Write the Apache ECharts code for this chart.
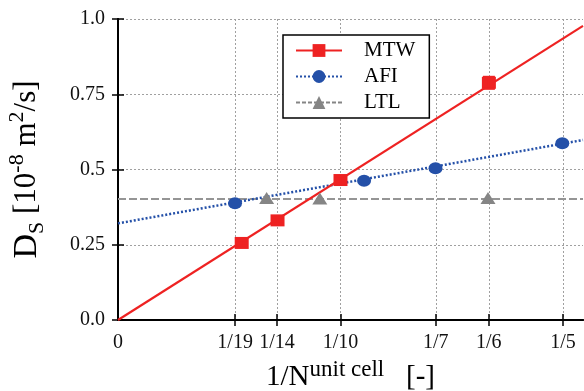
<!DOCTYPE html>
<html>
<head>
<meta charset="utf-8">
<script src="https://cdn.jsdelivr.net/npm/echarts@6/dist/echarts.min.js"></script>
<style>
  html, body {margin: 0; padding: 0; background: #fff;}
  #chart {width: 584px; height: 391px;}
</style>
</head>
<body>
<div id="chart"></div>
<script>
// tick positions on the 1/N axis and their labels
const tickVals = [0, 1 / 19, 1 / 14, 1 / 10, 1 / 7, 1 / 6, 1 / 5];
const tickText = ['0', '1/19', '1/14', '1/10', '1/7', '1/6', '1/5'];
const yTicks = [0, 0.25, 0.5, 0.75, 1.0];
const yTickText = ['0.0', '0.25', '0.5', '0.75', '1.0'];
const xMax = 0.209;

// measured points
const mtwX = [0.0556, 0.0717, 0.1, 0.1667];
const mtwY = [0.256, 0.331, 0.465, 0.788];
const mtwErr = [0.009, 0.009, 0.012, 0.02];
const afiX = [0.0526, 0.1106, 0.1427, 0.1997];
const afiY = [0.388, 0.463, 0.504, 0.587];
const ltlX = [0.0668, 0.0907, 0.1663];
const ltlY = [0.405, 0.404, 0.405];

// fitted lines (end points)
const mtwFit = [[0, 0], [xMax, 0.977]];
const afiFit = [[0, 0.321], [xMax, 0.598]];
const ltlFit = [[0, 0.402], [xMax, 0.402]];

const RED = '#ee2222';
const BLUE = '#2450a8';
const GREY = '#858585';
const FONT = 'Liberation Serif';

const zip = (xs, ys) => xs.map((x, i) => [x, ys[i]]);

const myChart = echarts.init(document.getElementById('chart'), null, {renderer: 'canvas'});

const gridLine = {show: true, lineStyle: {color: '#a0a0a0', type: [2, 2], width: 1}};
const tickStyle = {inside: true, length: 6, lineStyle: {color: '#000', width: 1.5}};

const option = {
    animation: false,
    grid: {left: 118, right: 1, top: 19, bottom: 71, outerBoundsMode: 'none', containLabel: false},
    xAxis: [{
        type: 'value',
        min: 0,
        max: xMax,
        axisLine: {lineStyle: {color: '#000', width: 2}},
        axisTick: Object.assign({customValues: tickVals.slice(1)}, tickStyle),
        splitLine: gridLine,
        axisLabel: {
            customValues: tickVals,
            margin: 13,
            color: '#111',
            fontFamily: FONT,
            fontSize: 20,
            formatter: v => {
                let best = 0;
                tickVals.forEach((t, i) => { if (Math.abs(t - v) < Math.abs(tickVals[best] - v)) best = i; });
                return tickText[best];
            },
        },
        name: '{t|1/N}{sup|unit cell}{t|   [-]}',
        nameLocation: 'middle',
        nameGap: 38,
        nameTextStyle: {
            rich: {
                t: {fontFamily: FONT, fontSize: 29, color: '#000', lineHeight: 34, verticalAlign: 'bottom'},
                sup: {fontFamily: FONT, fontSize: 23, color: '#000', lineHeight: 34, verticalAlign: 'top'},
            },
        },
    }, {
        type: 'value',
        position: 'top',
        min: 0,
        max: xMax,
        axisLine: {lineStyle: {color: '#000', width: 2}},
        axisTick: Object.assign({customValues: tickVals.slice(1)}, tickStyle),
        axisLabel: {show: false},
        splitLine: {show: false},
    }],
    yAxis: [{
        type: 'value',
        min: 0,
        max: 1,
        interval: 0.25,
        axisLine: {show: true, lineStyle: {color: '#000', width: 2}},
        axisTick: tickStyle,
        splitLine: gridLine,
        axisLabel: {
            margin: 13,
            color: '#111',
            fontFamily: FONT,
            fontSize: 20,
            formatter: v => yTickText[yTicks.indexOf(v)],
        },
        name: '{d|D}{sub|S}{t| [10}{sup|-8}{t| m}{sup|2}{t|/s]}',
        nameLocation: 'middle',
        nameRotate: 90,
        nameGap: 70,
        nameTextStyle: {
            rich: {
                d: {fontFamily: FONT, fontSize: 34, color: '#000', lineHeight: 42, verticalAlign: 'middle'},
                t: {fontFamily: FONT, fontSize: 31, color: '#000', lineHeight: 42, verticalAlign: 'middle'},
                sub: {fontFamily: FONT, fontSize: 22, color: '#000', lineHeight: 42, verticalAlign: 'bottom'},
                sup: {fontFamily: FONT, fontSize: 22, color: '#000', lineHeight: 42, verticalAlign: 'top'},
            },
        },
    }, {
        type: 'value',
        position: 'right',
        min: 0,
        max: 1,
        interval: 0.25,
        axisLine: {show: true, lineStyle: {color: '#000', width: 2}},
        axisTick: tickStyle,
        axisLabel: {show: false},
        splitLine: {show: false},
    }],
    legend: {
        orient: 'vertical',
        left: 283,
        top: 35,
        itemWidth: 46,
        itemHeight: 16,
        itemGap: 5,
        padding: [5, 14, 5, 12],
        borderColor: '#000',
        borderWidth: 1.5,
        backgroundColor: '#fff',
        formatter: name => '{a|' + name + '}',
        textStyle: {
            rich: {a: {fontFamily: FONT, fontSize: 21, color: '#000', padding: [0, 0, 0, 17]}},
        },
        data: [
            {name: 'MTW', lineStyle: {color: RED, width: 2, type: 'solid', opacity: 1}},
            {name: 'AFI', lineStyle: {color: BLUE, width: 2, type: [2, 2], opacity: 1}},
            {name: 'LTL', lineStyle: {color: GREY, width: 2, type: [4, 2], opacity: 1}},
        ],
    },
    series: [
        {
            name: 'LTL fit', type: 'line', data: ltlFit, showSymbol: false, z: 2,
            lineStyle: {color: '#959595', width: 2, type: [8, 3]},
        },
        {
            name: 'AFI fit', type: 'line', data: afiFit, showSymbol: false, z: 3,
            lineStyle: {color: BLUE, width: 2.5, type: [2, 2]},
        },
        {
            name: 'MTW fit', type: 'line', data: mtwFit, showSymbol: false, z: 4,
            lineStyle: {color: RED, width: 2.2},
        },
        {
            name: 'LTL', type: 'line', data: zip(ltlX, ltlY), z: 5,
            symbol: 'triangle', symbolSize: [15, 12],
            itemStyle: {color: GREY}, lineStyle: {width: 0, opacity: 0},
        },
        {
            name: 'AFI', type: 'line', data: zip(afiX, afiY), z: 6,
            symbol: 'circle', symbolSize: [14, 12],
            itemStyle: {color: BLUE}, lineStyle: {width: 0, opacity: 0},
        },
        {
            name: 'MTW', type: 'line', data: zip(mtwX, mtwY), z: 7,
            symbol: 'rect', symbolSize: [14, 12],
            itemStyle: {color: RED}, lineStyle: {width: 0, opacity: 0},
        },
        {
            name: 'MTW err', type: 'custom', z: 8,
            data: mtwX.map((x, i) => [x, mtwY[i], mtwErr[i]]),
            renderItem: (params, api) => {
                const top = api.coord([api.value(0), api.value(1) + api.value(2)]);
                const bot = api.coord([api.value(0), api.value(1) - api.value(2)]);
                const st = {stroke: RED, lineWidth: 2};
                return {
                    type: 'group',
                    children: [
                        {type: 'line', shape: {x1: top[0], y1: top[1], x2: bot[0], y2: bot[1]}, style: st},
                        {type: 'line', shape: {x1: top[0] - 6, y1: top[1], x2: top[0] + 6, y2: top[1]}, style: st},
                        {type: 'line', shape: {x1: bot[0] - 6, y1: bot[1], x2: bot[0] + 6, y2: bot[1]}, style: st},
                    ],
                };
            },
        },
    ],
};

myChart.setOption(option);
</script>
</body>
</html>
